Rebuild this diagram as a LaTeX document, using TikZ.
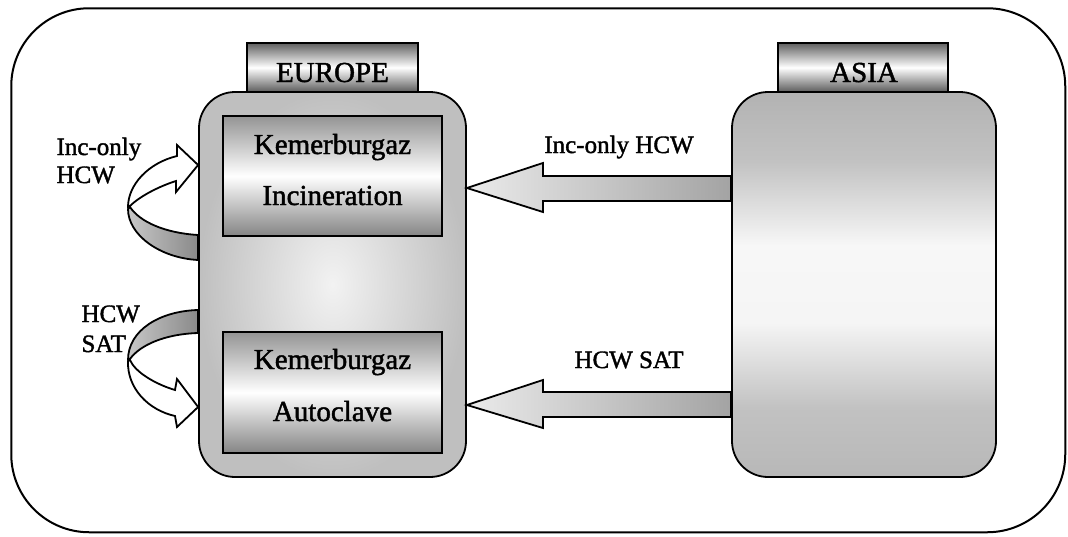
\documentclass[tikz,border=0pt]{standalone}
\usepackage{fontspec}
\setmainfont[FakeBold=1.5]{Liberation Serif}
\usetikzlibrary{calc}

% light band across the middle of the Asia block
\pgfdeclareverticalshading{asiashade}{100bp}{%
  color(0bp)=(black!28); color(25bp)=(black!28); color(34bp)=(black!24);
  color(45bp)=(black!4); color(55bp)=(black!3); color(66bp)=(black!24);
  color(75bp)=(black!30); color(100bp)=(black!30)}

\tikzset{
  edge/.style={draw=black, line width=1.8pt},
  region/.style={edge, rounded corners=36pt, inner sep=0pt,
    minimum height=385pt},
  tabbox/.style={edge, inner sep=0pt, minimum height=49pt,
    top color=black!62, bottom color=black!64, middle color=white},
  plant/.style={edge, inner sep=0pt, minimum width=219pt,
    top color=black!42, bottom color=black!48, middle color=white},
  flow/.style={edge, line join=miter, left color=black!8, right color=black!36},
  band/.style={edge, line join=round, left color=black!22, right color=black!46},
  face/.style={edge, line join=miter, fill=white},
  title/.style={font=\fontsize{29}{29}\selectfont, anchor=base},
  note/.style={font=\fontsize{25}{25}\selectfont, anchor=base},
}

\begin{document}
\begin{tikzpicture}[x=1pt, y=-1pt]
  \useasboundingbox (0,0) rectangle (1068,536);
  \fill[white] (0,0) rectangle (1068,536);

  % outer frame
  \node[draw=black, line width=2pt, rounded corners=78pt, inner sep=0pt,
        minimum width=1054pt, minimum height=524pt] (frame) at (538.25,270.25) {};

  % the two regions
  \node[region, minimum width=267pt, inner color=black!5, outer color=black!25]
        (europe) at (332.5,284.5) {};
  \node[region, minimum width=264pt, shading=asiashade]
        (asia) at (864,284.5) {};

  % region tabs
  \node[tabbox, minimum width=171pt] (eutab) at (332.5,67.5) {};
  \node[tabbox, minimum width=170pt] (astab) at (863,67.5) {};
  \node[title] (eutext) at (332.5,82) {EUROPE};
  \node[title] (astext) at (864,82) {ASIA};

  % plants in Europe
  \node[plant, minimum height=120pt] (incin) at (332.5,176) {};
  \node[plant, minimum height=121pt] (autoc) at (332.5,392.5) {};
  \node[title] (incinA) at (incin.center |- 0,154) {Kemerburgaz};
  \node[title] (incinB) at (incin.center |- 0,205) {Incineration};
  \node[title] (autocA) at (autoc.center |- 0,369) {Kemerburgaz};
  \node[title] (autocB) at (autoc.center |- 0,421) {Autoclave};

  % flows from Asia to Europe
  \coordinate (incTip) at (europe.east |- 0,188);
  \draw[flow] (incTip) -- ++(76,-25) -- ++(0,13) -- (asia.west |- 0,176)
    -- (asia.west |- 0,201) -- ($(incTip)+(76,13)$) -- ++(0,11) -- cycle;
  \coordinate (satTip) at (europe.east |- 0,405);
  \draw[flow] (satTip) -- ++(76,-25) -- ++(0,12) -- (asia.west |- 0,392)
    -- (asia.west |- 0,417) -- ($(satTip)+(76,12)$) -- ++(0,11) -- cycle;
  \node[note] (incLbl) at (619,153) {Inc-only HCW};
  \node[note] (satLbl) at (629,368) {HCW SAT};

  % loop flows within Europe
  \draw[band] (130,207) .. controls (140,222) and (165,233) .. (europe.west |- 0,235)
    -- (europe.west |- 0,260) .. controls (160,258) and (128,235) .. (128,209) -- cycle;
  \draw[face] (128,207) .. controls (128,185) and (148,163) .. (177,156)
    -- (177,145) -- (europe.west |- 0,165) -- (176,192) -- (176,181)
    .. controls (160,186) and (140,196) .. (130,206) -- cycle;

  \draw[band] (europe.west |- 0,310) .. controls (160,311) and (128,330) .. (128,360)
    -- (130,359) .. controls (140,345) and (165,334) .. (europe.west |- 0,333) -- cycle;
  \draw[face] (128,361) .. controls (127,388) and (148,410) .. (175,416)
    -- (177,427) -- (europe.west |- 0,407) -- (177,379) -- (175,390)
    .. controls (155,384) and (135,372) .. (130,360) -- cycle;

  \node[note, anchor=base west] (loopA1) at (53,155) {Inc-only};
  \node[note, anchor=base west] (loopA2) at (53,183) {HCW};
  \node[note, anchor=base west] (loopB1) at (78,322) {HCW};
  \node[note, anchor=base west] (loopB2) at (78,352) {SAT};
\end{tikzpicture}
\end{document}
